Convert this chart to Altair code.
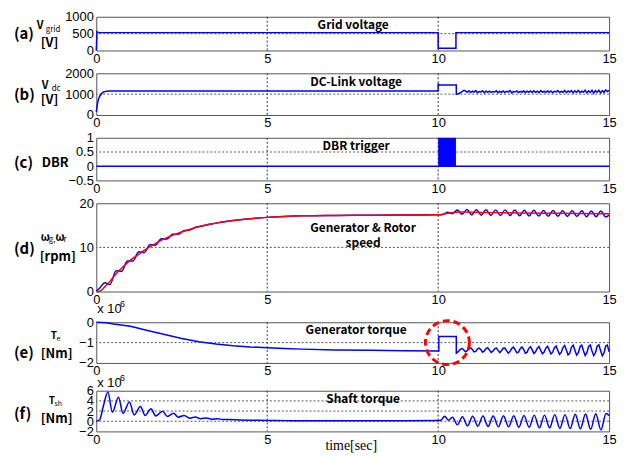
import altair as alt
import pandas as pd
import numpy as np

# ---------------- data ----------------
# (a) grid voltage [V]
grid_t = [0, 0.02, 0.06, 10.0, 10.0, 10.52, 10.52, 15.0]
grid_v = [0, 560, 530, 530, 70, 70, 530, 530]

# (b) DC-link voltage [V]
dc_t_head = [0, 0.03, 0.06, 0.1, 0.15, 0.2, 0.25, 0.3, 0.4, 0.6, 10.0, 10.0, 10.05, 10.53, 10.53, 10.6, 10.7, 10.75]
dc_v_head = [150, 500, 750, 900, 1020, 1090, 1120, 1140, 1150, 1150, 1150, 1480, 1440, 1440, 1000, 1020, 1120, 1180]
dc_t_noise = list(np.round(np.arange(10.8, 15.0001, 0.05), 2))
dc_v_noise = [1150, 1090, 1160, 1080, 1140, 1100, 1170, 1070, 1130, 1110, 1160, 1060, 1150, 1090, 1140, 1080, 1120, 1100, 1160, 1070,
              1130, 1090, 1150, 1080, 1140, 1110, 1170, 1060, 1120, 1100, 1150, 1080, 1130, 1090, 1160, 1070, 1140, 1100, 1150, 1080,
              1160, 1090, 1140, 1070, 1170, 1100, 1130, 1080, 1160, 1090, 1150, 1070, 1140, 1110, 1170, 1080, 1130, 1090, 1180, 1070,
              1150, 1100, 1170, 1060, 1160, 1090, 1180, 1070, 1140, 1100, 1190, 1060, 1160, 1080, 1180, 1050, 1170, 1090, 1190, 1060,
              1170, 1080, 1200, 1120, 1180]

# (c) DBR trigger
dbr_t = [0, 15]
dbr_v = [0, 0]
dbr_on_start, dbr_on_end = 10.0, 10.52

# (d) generator (blue) & rotor (red) speed [rpm]
rotor_t = [0, 0.1, 0.2, 0.3, 0.4, 0.5, 0.6, 0.8, 1.0, 1.2, 1.4, 1.6, 1.8, 2.0, 2.25, 2.5, 2.75, 3.0, 3.5, 4.0, 4.5,
           5.0, 5.5, 6.0, 7.0, 8.0, 9.0, 10.0, 10.2, 10.4, 10.6, 10.8, 11.0, 12.0, 13.0, 14.0, 15.0]
rotor_v = [0, 0.05, 0.7, 1.5, 2.3, 3.3, 4.2, 5.7, 7.1, 8.2, 9.3, 10.3, 11.2, 12.0, 12.8, 13.5, 14.1, 14.7, 15.5, 16.1, 16.5,
           16.8, 17.0, 17.15, 17.25, 17.3, 17.35, 17.4, 17.6, 17.85, 18.0, 18.0, 17.95, 17.85, 17.75, 17.7, 17.6]
gen_t = [0, 0.1, 0.25, 0.4, 0.58, 0.74, 0.91, 1.07, 1.24, 1.4, 1.57, 1.73, 1.9, 2.07, 2.23, 2.4, 2.56, 2.73, 2.9, 3.2,
         3.5, 4.0, 4.5, 5.0, 5.5, 6.0, 7.0, 8.0, 9.0, 10.0,
         10.14, 10.28, 10.42, 10.56, 10.70, 10.84, 10.98, 11.12, 11.26, 11.40, 11.54, 11.68, 11.82, 11.96, 12.10, 12.24,
         12.38, 12.52, 12.66, 12.80, 12.94, 13.08, 13.22, 13.36, 13.50, 13.64, 13.78, 13.92, 14.06, 14.20, 14.34, 14.48,
         14.62, 14.76, 14.90, 15.0]
gen_v = [0, 0.8, 2.0, 1.6, 4.7, 4.6, 6.9, 6.9, 9.0, 8.8, 10.6, 10.5, 11.95, 11.9, 13.0, 13.0, 13.8, 13.95, 14.55, 15.0,
         15.5, 16.1, 16.5, 16.8, 17.0, 17.15, 17.25, 17.3, 17.35, 17.4,
         17.45, 17.95, 17.65, 18.45, 17.5, 18.6, 17.35, 18.55, 17.3, 18.55, 17.25, 18.5, 17.2, 18.5, 17.2, 18.45,
         17.15, 18.4, 17.1, 18.4, 17.1, 18.35, 17.05, 18.35, 17.05, 18.3, 17.0, 18.3, 17.0, 18.3, 16.95, 18.25,
         16.95, 18.25, 16.9, 17.3]

# (e) generator torque [x10^6 Nm]
te_t_head = [0, 0.3, 0.5, 1.0, 1.5, 2.0, 2.5, 3.0, 3.5, 4.0, 4.5, 5.0, 5.5, 6.0, 7.0, 8.0, 9.0, 10.0, 10.02, 10.02, 10.53, 10.53]
te_v_head = [0, -0.02, -0.08, -0.2, -0.4, -0.6, -0.8, -0.96, -1.07, -1.15, -1.21, -1.25, -1.29, -1.32, -1.36, -1.38, -1.40, -1.41, -1.41, -0.70, -0.70, -1.52]
te_t_noise = list(np.round(np.arange(10.55, 15.0001, 0.05), 2))
te_v_noise = [-1.50, -1.42, -1.33, -1.28, -1.36, -1.45, -1.40, -1.30, -1.26, -1.34, -1.46, -1.43, -1.31, -1.27, -1.35,
              -1.47, -1.41, -1.29, -1.25, -1.37, -1.48, -1.42, -1.30, -1.26, -1.38, -1.49, -1.40, -1.28, -1.27, -1.39,
              -1.52, -1.44, -1.29, -1.22, -1.35, -1.50, -1.47, -1.30, -1.21, -1.33, -1.52, -1.48, -1.28, -1.20, -1.36,
              -1.53, -1.45, -1.27, -1.19, -1.38, -1.55, -1.46, -1.26, -1.18, -1.37, -1.56, -1.47, -1.25, -1.17, -1.39,
              -1.58, -1.48, -1.24, -1.14, -1.36, -1.60, -1.52, -1.22, -1.13, -1.38, -1.62, -1.50, -1.20, -1.12, -1.40,
              -1.63, -1.49, -1.19, -1.12, -1.41, -1.64, -1.50, -1.18, -1.11, -1.39, -1.65, -1.52, -1.17, -1.12, -1.45]
circle_t, circle_v = 10.27, -1.0

# (f) shaft torque [x10^6 Nm]
tsh_t = [0, 0.1, 0.2, 0.34, 0.47, 0.65, 0.78, 0.97, 1.11, 1.29, 1.43, 1.6, 1.74, 1.94, 2.08, 2.26, 2.4, 2.57, 2.74, 2.9,
         3.05, 3.22, 3.38, 3.55, 3.7, 3.9, 4.2, 4.6, 5.0, 5.5, 6.0, 7.0, 8.0, 9.0, 10.0,
         10.08, 10.19, 10.3, 10.42, 10.56, 10.71, 10.86, 11.01, 11.16, 11.31, 11.46, 11.61, 11.76, 11.91, 12.06, 12.21,
         12.36, 12.51, 12.66, 12.81, 12.96, 13.11, 13.26, 13.41, 13.56, 13.71, 13.86, 14.01, 14.16, 14.31, 14.46, 14.61,
         14.76, 14.91, 15.0]
tsh_v = [0, 0.3, 2.8, 5.74, 1.76, 4.73, 1.56, 3.78, 1.23, 2.9, 1.15, 2.44, 1.05, 1.97, 0.95, 1.56, 0.8, 1.15, 0.6, 0.85,
         0.5, 0.65, 0.4, 0.5, 0.33, 0.35, 0.25, 0.2, 0.15, 0.12, 0.1, 0.1, 0.1, 0.1, 0.15,
         0.2, 1.0, 0.2, 0.8, -0.7, 0.9, -0.95, 1.0, -1.0, 1.05, -1.05, 1.05, -1.1, 1.1, -1.1, 1.1,
         -1.2, 1.15, -1.2, 1.2, -1.3, 1.2, -1.3, 1.3, -1.4, 1.3, -1.45, 1.35, -1.5, 1.4, -1.6, 1.45,
         -1.7, 1.5, 1.1]

x_ticks = [0, 5, 10, 15]

# ---------------- helpers ----------------
W = 517
TICK_FONT = "Liberation Sans"
KR = "Noto Sans CJK KR"
ONE = pd.DataFrame({"k": [0]})


def X(field="t"):
    return alt.X(f"{field}:Q", title=None,
                 scale=alt.Scale(domain=[0, 15], nice=False, zero=False),
                 axis=alt.Axis(values=x_ticks, grid=False, ticks=False, domain=False, format="~f",
                               labelFlush=False, labelOverlap=False, labelPadding=2,
                               labelFont=TICK_FONT, labelFontSize=13, labelColor="black"))


def Y(field, dom, ticks):
    return alt.Y(f"{field}:Q", title=None,
                 scale=alt.Scale(domain=dom, nice=False, zero=False),
                 axis=alt.Axis(values=ticks, grid=False, ticks=False, domain=False, format="~f",
                               labelFlush=False, labelOverlap=False, labelPadding=3,
                               labelFont=TICK_FONT, labelFontSize=13, labelColor="black"))


def series(t, v):
    return pd.DataFrame({"t": t, "v": v, "i": range(len(t))})


def line(t, v, dom, ticks, color="#0000FF", interp="linear", width=1.5):
    return alt.Chart(series(t, v)).mark_line(color=color, strokeWidth=width, interpolate=interp).encode(
        x=X(), y=Y("v", dom, ticks), order="i:Q")


def grid(dom, ticks, ygrid):
    vr = alt.Chart(pd.DataFrame({"t": [5, 10]})).mark_rule(
        color="#333", strokeDash=[2, 2], strokeWidth=1).encode(x=X())
    hr = alt.Chart(pd.DataFrame({"v": ygrid})).mark_rule(
        color="#555", strokeDash=[2, 2], strokeWidth=1).encode(y=Y("v", dom, ticks))
    return [vr, hr]


def txt(s, x, y, size, weight="normal", font=KR, align="left"):
    return alt.Chart(ONE).mark_text(text=s, fontSize=size, fontWeight=weight, font=font,
                                    align=align, baseline="middle", color="black").encode(
        x=alt.value(x), y=alt.value(y))


# ---------------- panels ----------------
# (a)
da, ta = [0, 1000], [0, 500, 1000]
pa = alt.layer(
    *grid(da, ta, [500]),
    line(grid_t, grid_v, da, ta),
    txt("Grid voltage", 259, 8, 12, "bold", align="center"),
    txt("(a)", -83, 17, 15, "bold"),
    txt("V", -60, 9, 11, "bold"),
    txt("grid", -51, 13, 8),
    txt("[V]", -56, 26, 13, "bold"),
).properties(width=W, height=34)

# (b)
db, tb = [0, 2000], [0, 1000, 2000]
pb = alt.layer(
    *grid(db, tb, [1000]),
    line(dc_t_head + dc_t_noise, dc_v_head + dc_v_noise, db, tb),
    txt("DC-Link voltage", 262, 9, 12, "bold", align="center"),
    txt("(b)", -83, 22, 15, "bold"),
    txt("V", -55, 13, 11, "bold"),
    txt("dc", -45, 16, 8),
    txt("[V]", -56, 27, 13, "bold"),
).properties(width=W, height=42)

# (c)
dcd, tc = [-0.5, 1], [-0.5, 0, 0.5, 1]
rect_df = pd.DataFrame({"t0": [dbr_on_start], "t1": [dbr_on_end], "v0": [0], "v1": [1]})
pc = alt.layer(
    *grid(dcd, tc, [0.5]),
    alt.Chart(rect_df).mark_rect(color="#0000FF").encode(
        x=X("t0"), x2="t1:Q", y=Y("v0", dcd, tc), y2="v1:Q"),
    line(dbr_t, dbr_v, dcd, tc),
    txt("DBR trigger", 262, 8, 12, "bold", align="center"),
    txt("(c)", -83, 25, 15, "bold"),
    txt("DBR", -55, 25, 13, "bold"),
).properties(width=W, height=43)

# (d)
dd, td = [0, 20], [0, 10, 20]
pdd = alt.layer(
    *grid(dd, td, [10]),
    line(gen_t, gen_v, dd, td, interp="monotone"),
    line(rotor_t, rotor_v, dd, td, color="#FF0000", interp="monotone"),
    txt("Generator & Rotor", 269, 25, 12, "bold", align="center"),
    txt("speed", 269, 40, 12, "bold", align="center"),
    txt("(d)", -83, 46, 15, "bold"),
    txt("ω", -56, 35, 11, "bold"),
    txt("g,", -48, 37, 8),
    txt("ω", -41, 35, 11, "bold"),
    txt("r", -33, 37, 8),
    txt("[rpm]", -57, 54, 13, "bold"),
).properties(width=W, height=89)

# (e)
de, te = [-2, 0], [-2, -1, 0]
circ_df = pd.DataFrame({"t": [circle_t], "v": [circle_v]})
pe = alt.layer(
    *grid(de, te, [-1]),
    line(te_t_head + te_t_noise, te_v_head + te_v_noise, de, te),
    alt.Chart(circ_df).mark_point(shape="circle", filled=False, size=1963, color="#FF0000",
                                  strokeWidth=3, strokeDash=[7, 4], opacity=1).encode(
        x=X(), y=Y("v", de, te)),
    txt("Generator torque", 262, 8, 12, "bold", align="center"),
    txt("x 10", 1, -13, 13, font=TICK_FONT),
    txt("6", 24, -18, 9, font=TICK_FONT),
    txt("(e)", -83, 31, 15, "bold"),
    txt("T", -46, 14, 10, "bold"),
    txt("e", -40, 17, 7),
    txt("[Nm]", -56, 32, 13, "bold"),
).properties(width=W, height=41)

# (f)
df_, tf = [-2, 6], [-2, 0, 2, 4, 6]
pf = alt.layer(
    *grid(df_, tf, [0, 2, 4]),
    line(tsh_t, tsh_v, df_, tf, interp="monotone"),
    txt("Shaft torque", 269, 8, 12, "bold", align="center"),
    txt("x 10", 1, -8, 13, font=TICK_FONT),
    txt("6", 24, -13, 9, font=TICK_FONT),
    txt("(f)", -83, 23, 15, "bold"),
    txt("T", -48, 10, 10, "bold"),
    txt("sh", -42, 13, 7),
    txt("[Nm]", -56, 29, 13, "bold"),
    txt("time[sec]", 257, 56, 14, font="Liberation Serif", align="center"),
).properties(width=W, height=41)

top = alt.vconcat(pa, pb, pc, pdd, spacing=23, bounds="flush")
bottom = alt.vconcat(pe, pf, spacing=28, bounds="flush")
chart = alt.vconcat(top, bottom, spacing=-8).properties(
    padding={"left": 5, "top": 0, "right": 5, "bottom": 5},
    background="white",
).configure_view(stroke="#555", strokeWidth=1)

chart.save("out.html", embed_options={"renderer": "svg", "actions": False})
